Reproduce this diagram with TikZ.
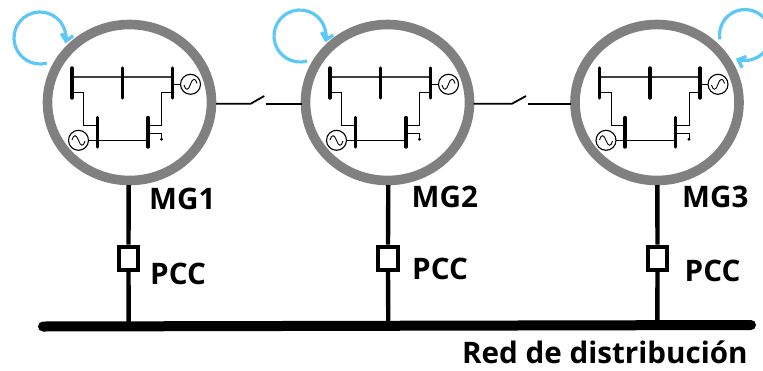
\documentclass[tikz,border=0pt]{standalone}
\usepackage{fontspec}
\setmainfont{Open Sans}
\usetikzlibrary{shapes.geometric,arrows.meta}
\definecolor{ringgray}{HTML}{808080}
\definecolor{loopblue}{HTML}{5CC8F8}
\definecolor{dkline}{HTML}{404040}
\tikzset{
  x=1pt,y=-1pt,
  ring/.style={draw=ringgray,line width=9.6pt,ellipse,inner sep=0pt,outer sep=0pt,minimum width=164pt,minimum height=156pt},
  feeder/.style={line width=4.4pt,black},
  pccbox/.style={draw=black,line width=4.2pt,fill=white,rectangle,inner sep=0pt,minimum width=19.5pt,minimum height=23pt},
  mainbus/.style={line width=10pt,line cap=round,black},
  tie/.style={line width=1.8pt,black},
  loop/.style={draw=loopblue,line width=3.2pt,-{Straight Barb[length=6.5pt,width=12pt,line width=3.4pt]}},
  busbar/.style={line width=3.4pt,line cap=round,black},
  hline/.style={line width=1.6pt,dkline},
  thin line/.style={line width=1pt,black},
  gen/.style={circle,draw=black,line width=1.1pt,fill=white,minimum size=20pt,inner sep=0pt,outer sep=0pt},
  wave/.style={line width=0.9pt,black},
  lab/.style={anchor=base west,inner sep=0pt,font=\bfseries\fontsize{29.6}{30}\selectfont},
}
\newcommand{\gridcell}[1]{%
  \begin{scope}[shift={(#1,0)}]
    \coordinate (ba1) at (-57.5,68); \coordinate (ba2) at (-57.5,98);
    \coordinate (bb1) at (-7,68);    \coordinate (bb2) at (-7,98);
    \coordinate (bc1) at (43,68);    \coordinate (bc2) at (43,98);
    \coordinate (bd1) at (-32,117.5);  \coordinate (bd2) at (-32,147);
    \coordinate (be1) at (18.5,117.5); \coordinate (be2) at (18.5,147);
    \draw[hline] (-57.5,76.7) -- (43,76.7);
    \draw[thin line] (-57.5,92.3) -| (-46,125) -- (-32,125);
    \draw[thin line] (43,92.3) -| (32,125) -- (18.5,125);
    \draw[thin line] (-32,140) -- (18.5,140);
    \draw[thin line] (18.5,133.3) -| (32,139);
    \fill[black] (32,139.3) circle (1.6);
    \draw[thin line] (43,84.3) -- (52,84.3);
    \draw[thin line] (-41,140.3) -- (-32,140.3);
    \node[gen] (gt) at (61,84.3) {};
    \node[gen] (gb) at (-51,140.3) {};
    \draw[wave] (54.5,85) .. controls (56,91) and (59,90.5) .. (61,84.3) .. controls (63,78) and (66,77.5) .. (67.5,83.5);
    \draw[wave] (-57.5,140) .. controls (-56,134) and (-53,134.5) .. (-51,140.3) .. controls (-49,146.5) and (-46,147) .. (-44.5,141);
    \draw[busbar] (ba1) -- (ba2);
    \draw[busbar] (bb1) -- (bb2);
    \draw[busbar] (bc1) -- (bc2);
    \draw[busbar] (bd1) -- (bd2);
    \draw[busbar] (be1) -- (be2);
  \end{scope}}
\begin{document}
\begin{tikzpicture}
  \useasboundingbox (0,0) rectangle (763,370);
  \clip (0,0) rectangle (763,370);
  % rings
  \node[ring] (m1) at (129.5,102.5) {};
  \node[ring] (m2) at (387.5,102.5) {};
  \node[ring] (m3) at (657,102.5) {};
  \gridcell{129.5}
  \gridcell{387.5}
  \gridcell{657}
  % main bus
  \coordinate (busl) at (43,326.5);
  \coordinate (busr) at (751,325);
  \coordinate (t1) at (128.7,326);
  \coordinate (t2) at (388.3,326);
  \coordinate (t3) at (657.3,326);
  \draw[mainbus] (busl) -- (busr);
  % feeders and PCC
  \node[pccbox] (p1) at (128.5,258.3) {};
  \node[pccbox] (p2) at (388,258.3) {};
  \node[pccbox] (p3) at (657.5,258.3) {};
  \draw[feeder] (128.7,185) -- (p1.north);
  \draw[feeder] (388.3,185) -- (p2.north);
  \draw[feeder] (657.3,185) -- (p3.north);
  \draw[feeder] (p1.south) -- (t1);
  \draw[feeder] (p2.south) -- (t2);
  \draw[feeder] (p3.south) -- (t3);
  % tie switches
  \coordinate (s1a) at (250.7,103.7);
  \coordinate (s1b) at (264.3,96);
  \coordinate (s1c) at (265.7,103.7);
  \coordinate (s2a) at (512,103.7);
  \coordinate (s2b) at (526,96);
  \coordinate (s2c) at (528,103.7);
  \draw[tie] (216,103.7) -- (s1a) -- (s1b);
  \draw[tie] (s1c) -- (301.5,103.7);
  \draw[tie] (473.5,103.7) -- (s2a) -- (s2b);
  \draw[tie] (s2c) -- (570.5,103.7);
  % control loops
  \coordinate (l1) at ({40+26*cos(75)},{38+26*sin(75)});
  \coordinate (l2) at ({300+26*cos(74)},{36+26*sin(74)});
  \coordinate (l3) at ({745+25.5*cos(170)},{35+25.5*sin(170)});
  \draw[loop] (l1) arc[start angle=75,end angle=372,radius=26];
  \draw[loop] (l2) arc[start angle=74,end angle=374,radius=26];
  \draw[loop] (l3) arc[start angle=170,end angle=471,radius=25.5];
  % labels
  \node[lab] (tm1) at (149,209) {MG1};
  \node[lab] (tm2) at (411.5,207) {MG2};
  \node[lab] (tm3) at (682,207) {MG3};
  \node[lab] (tp1) at (150,284) {PCC};
  \node[lab] (tp2) at (412,279) {PCC};
  \node[lab] (tp3) at (684.5,281.7) {PCC};
  \node[lab] (tr) at (462,363) {Red de distribución};
\end{tikzpicture}
\end{document}
